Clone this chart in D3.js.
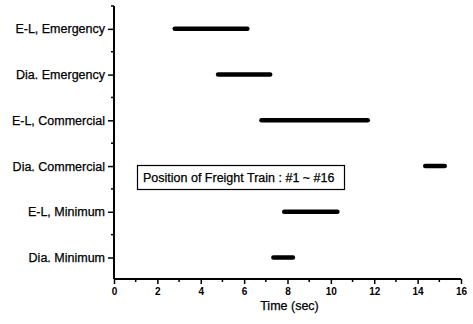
<!DOCTYPE html>
<html>
<head>
<meta charset="utf-8">
<script src="https://cdn.jsdelivr.net/npm/d3@7"></script>
<style>
  body { margin: 0; background: #fff; }
  text { font-family: "Liberation Sans", Arial, sans-serif; fill: #000; }
</style>
</head>
<body>
<script>
// categories, top to bottom
var categories = ["E-L, Emergency", "Dia. Emergency", "E-L, Commercial",
                  "Dia. Commercial", "E-L, Minimum", "Dia. Minimum"];
// position of freight train (start / end time, sec)
var startTimes = [2.8, 4.8, 6.8, 14.35, 7.85, 7.35];
var endTimes   = [6.15, 7.2, 11.7, 15.25, 10.3, 8.25];
var xTicks = [0, 2, 4, 6, 8, 10, 12, 14, 16];
var xMinor = [1, 3, 5, 7, 9, 11, 13, 15];
var legendText = "Position of Freight Train : #1 ~ #16";

var width = 473, height = 324;

var svg = d3.select("body").append("svg")
    .attr("width", width)
    .attr("height", height);

var x = d3.scaleLinear().domain([0, 16]).range([114, 461]);
// category i sits at value 6 - i
var y = d3.scaleLinear().domain([0.53, 6.5]).range([279, 6]);
var yPos = function(i) { return y(categories.length - i); };

// x axis
var xAxis = svg.append("g")
    .attr("transform", "translate(0," + y(0.53) + ")")
    .call(d3.axisBottom(x).tickValues(xTicks).tickSize(5).tickPadding(4)
        .tickFormat(d3.format("d")));
xAxis.select(".domain").attr("stroke-width", 2).attr("d", "M" + x(0) + ",0H" + x(16));
xAxis.selectAll(".tick line").attr("stroke-width", 1.5);
xAxis.selectAll("text").attr("font-size", 10).attr("font-weight", "bold")
    .style("font-family", "Liberation Sans, Arial, sans-serif");

xAxis.selectAll(".minor").data(xMinor).enter().append("line")
    .attr("class", "minor")
    .attr("x1", function(d) { return x(d); })
    .attr("x2", function(d) { return x(d); })
    .attr("y1", 0).attr("y2", 3)
    .attr("stroke", "#000").attr("stroke-width", 1.5);

// y axis
var yAxis = svg.append("g")
    .attr("transform", "translate(" + x(0) + ",0)")
    .call(d3.axisLeft(y).tickValues(d3.range(1, categories.length + 1))
        .tickSize(6).tickPadding(3)
        .tickFormat(function(d) { return categories[categories.length - d]; }));
yAxis.select(".domain").attr("stroke-width", 2)
    .attr("d", "M0," + y(6.5) + "V" + y(0.53));
yAxis.selectAll(".tick line").attr("stroke-width", 1.5);
yAxis.selectAll("text").attr("font-size", 12.5)
    .style("font-family", "Liberation Sans, Arial, sans-serif")
    .attr("stroke", "#000").attr("stroke-width", 0.25);

yAxis.selectAll(".minor").data(d3.range(1.5, 7, 1)).enter().append("line")
    .attr("class", "minor")
    .attr("x1", 0).attr("x2", -3)
    .attr("y1", function(d) { return y(d); })
    .attr("y2", function(d) { return y(d); })
    .attr("stroke", "#000").attr("stroke-width", 1.5);

// bars
svg.append("g").selectAll("line").data(categories).enter().append("line")
    .attr("x1", function(d, i) { return x(startTimes[i]); })
    .attr("x2", function(d, i) { return x(endTimes[i]); })
    .attr("y1", function(d, i) { return yPos(i); })
    .attr("y2", function(d, i) { return yPos(i); })
    .attr("stroke", "#000")
    .attr("stroke-width", 4.5)
    .attr("stroke-linecap", "round");

// legend box
var lg = svg.append("g");
lg.append("rect")
    .attr("x", 137.5).attr("y", 165.5)
    .attr("width", 207).attr("height", 24)
    .attr("fill", "#fff").attr("stroke", "#000").attr("stroke-width", 1.2);
lg.append("text")
    .attr("x", 143).attr("y", 182)
    .attr("font-size", 12.5)
    .attr("stroke", "#000").attr("stroke-width", 0.25)
    .text(legendText);

// axis title
svg.append("text")
    .attr("x", (x(0) + x(16)) / 2 + 2)
    .attr("y", 310)
    .attr("text-anchor", "middle")
    .attr("font-size", 12.5)
    .attr("stroke", "#000").attr("stroke-width", 0.25)
    .text("Time (sec)");
</script>
</body>
</html>
